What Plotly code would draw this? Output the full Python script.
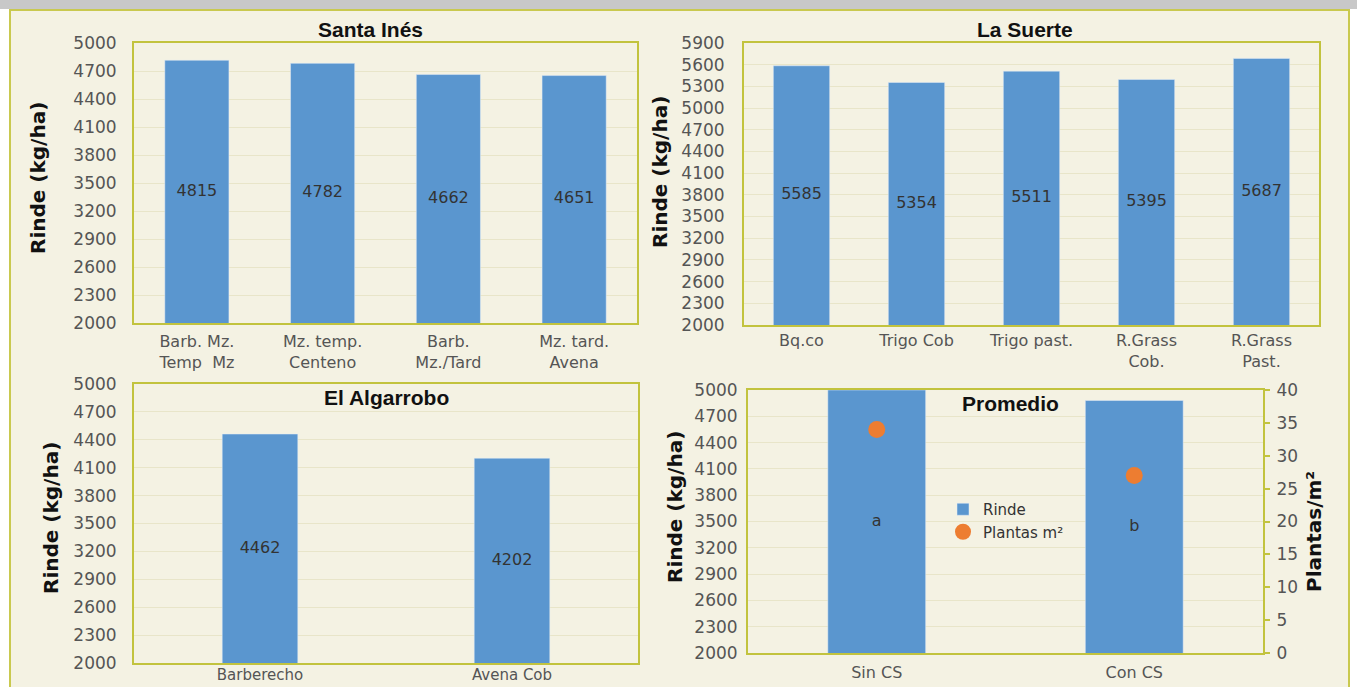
import plotly.graph_objects as go

W, H = 1357, 687

# ---- data -------------------------------------------------------------
santa_ines_cats = ["Barb. Mz.<br>Temp  Mz", "Mz. temp.<br>Centeno", "Barb.<br>Mz./Tard", "Mz. tard.<br>Avena"]
santa_ines_rinde = [4815, 4782, 4662, 4651]

la_suerte_cats = ["Bq.co", "Trigo Cob", "Trigo past.", "R.Grass<br>Cob.", "R.Grass<br>Past."]
la_suerte_rinde = [5585, 5354, 5511, 5395, 5687]

algarrobo_cats = ["Barberecho", "Avena Cob"]
algarrobo_rinde = [4462, 4202]

promedio_cats = ["Sin CS", "Con CS"]
promedio_rinde = [5000, 4880]
promedio_letras = ["a", "b"]
promedio_plantas = [34, 27]

Y_FLOOR = 2000  # lower limit of every yield axis

# ---- styling ------------------------------------------------------------
BAR = "#5a96cf"
ORANGE = "#ed7d31"
OLIVE = "#c2c33e"
GRID = "#e8e5c9"
PANEL = "#f4f2e3"
TICK_FONT = dict(family="DejaVu Sans", size=17, color="#555555")
CAT_FONT = dict(family="DejaVu Sans", size=16, color="#555555")
VAL_FONT = dict(family="DejaVu Sans", size=16, color="#333333")
TITLE_FONT = dict(family="Liberation Sans", size=21, color="#111111")
AXT_FONT = dict(family="DejaVu Sans", size=20, color="#111111")


def fx(p):
    return p / W


def fy(p):
    return 1 - p / H


def xax(x0, x1, anchor, standoff=4, font=CAT_FONT):
    return dict(domain=[fx(x0), fx(x1)], anchor=anchor, showline=True, linecolor=OLIVE,
                linewidth=2, mirror=True, ticks="", tickfont=font, showgrid=False,
                ticklabelstandoff=standoff, automargin=False, fixedrange=True)


def yax(y0, y1, anchor, rng, standoff=12):
    return dict(domain=[fy(y1), fy(y0)], anchor=anchor, range=rng, tick0=Y_FLOOR, dtick=300,
                showline=True, linecolor=OLIVE, linewidth=2, mirror=True, ticks="",
                showgrid=True, gridcolor=GRID, gridwidth=1, zeroline=False,
                tickfont=TICK_FONT, ticklabelstandoff=standoff, automargin=False,
                fixedrange=True)


def bars_with_labels(cats, vals, labels, width, xa, ya, name=None, legend=False):
    """Bar trace plus its value label centred on the visible part of each bar."""
    fig.add_trace(go.Bar(x=cats, y=vals, width=width, marker_color=BAR, name=name,
                         xaxis=xa, yaxis=ya, showlegend=legend, hoverinfo="x+y"))
    mids = [(Y_FLOOR + v) / 2 for v in vals]
    fig.add_trace(go.Scatter(x=cats, y=mids, mode="text", text=labels, textfont=VAL_FONT,
                             textposition="middle center", xaxis=xa, yaxis=ya,
                             showlegend=False, hoverinfo="skip"))


fig = go.Figure()

bars_with_labels(santa_ines_cats, santa_ines_rinde, [str(v) for v in santa_ines_rinde], 0.51, "x", "y")
bars_with_labels(la_suerte_cats, la_suerte_rinde, [str(v) for v in la_suerte_rinde], 0.49, "x2", "y2")
bars_with_labels(algarrobo_cats, algarrobo_rinde, [str(v) for v in algarrobo_rinde], 0.30, "x3", "y3")
bars_with_labels(promedio_cats, promedio_rinde, promedio_letras, 0.38, "x4", "y4",
                 name="Rinde", legend=True)
fig.add_trace(go.Scatter(x=promedio_cats, y=promedio_plantas, mode="markers",
                         marker=dict(size=17, color=ORANGE), name="Plantas m²",
                         xaxis="x4", yaxis="y5", showlegend=True))

layout = dict(
    width=W, height=H, margin=dict(l=0, r=0, t=0, b=0, pad=0, autoexpand=False),
    paper_bgcolor="white", plot_bgcolor="white",
    xaxis=xax(134, 637, "y", 3), yaxis=yax(43, 323, "x", [2000, 5000]),
    xaxis2=xax(744, 1319, "y2", 0), yaxis2=yax(43, 325, "x2", [2000, 5900], 14),
    xaxis3=xax(134, 638, "y3", -3, dict(CAT_FONT, size=15)),
    yaxis3=yax(384, 663, "x3", [2000, 5000]),
    xaxis4=xax(748, 1263, "y4", 4), yaxis4=yax(390, 653, "x4", [2000, 5000], 5),
    yaxis5=dict(overlaying="y4", anchor="x4", side="right", range=[0, 40], dtick=5,
                showline=True, linecolor=OLIVE, linewidth=2, ticks="outside", ticklen=5,
                tickwidth=2, tickcolor=OLIVE, showgrid=False, zeroline=False,
                tickfont=TICK_FONT, ticklabelstandoff=3, automargin=False, fixedrange=True),
    legend=dict(x=fx(943), y=fy(493), xanchor="left", yanchor="top",
                bgcolor="rgba(0,0,0,0)", font=dict(family="DejaVu Sans", size=15, color="#333333"),
                tracegroupgap=2, itemwidth=30),
)
fig.update_layout(**layout)

# page background: grey strip on top and beige framed panel
fig.add_shape(type="rect", xref="paper", yref="paper", x0=0, x1=1, y0=fy(9), y1=1,
              fillcolor="#c8c8c8", line_width=0, layer="below")
fig.add_shape(type="rect", xref="paper", yref="paper", x0=fx(10), x1=fx(1349), y0=fy(700), y1=fy(10),
              fillcolor=PANEL, line=dict(color="#c9c94f", width=2), layer="below")

titles = [("Santa Inés", 370, 30), ("La Suerte", 1025, 30),
          ("El Algarrobo", 386, 397), ("Promedio", 1010, 403)]
for txt, px, py in titles:
    fig.add_annotation(text=f"<b>{txt}</b>", x=fx(px), y=fy(py), xref="paper", yref="paper",
                       showarrow=False, font=TITLE_FONT, xanchor="center", yanchor="middle")

axis_titles = [("Rinde (kg/ha)", 38, 178), ("Rinde (kg/ha)", 660, 172),
               ("Rinde (kg/ha)", 51, 518), ("Rinde (kg/ha)", 675, 507),
               ("Plantas/m²", 1314, 532)]
for txt, px, py in axis_titles:
    fig.add_annotation(text=f"<b>{txt}</b>", x=fx(px), y=fy(py), xref="paper", yref="paper",
                       showarrow=False, font=AXT_FONT, textangle=-90,
                       xanchor="center", yanchor="middle")

fig.write_html("out.html", post_script="document.body.style.margin='0';")
